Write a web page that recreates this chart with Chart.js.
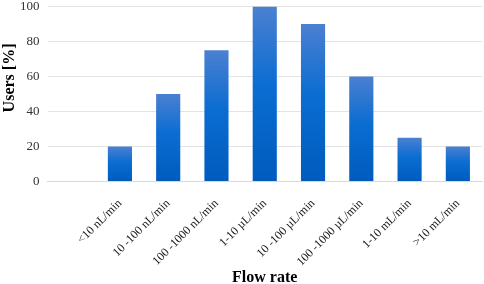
<!DOCTYPE html>
<html>
<head>
<meta charset="utf-8">
<script src="https://cdn.jsdelivr.net/npm/chart.js@4"></script>
<style>
  html, body { margin: 0; padding: 0; background: #fff; }
  #wrap { width: 484px; height: 284px; }
</style>
</head>
<body>
<div id="wrap"><canvas id="myChartFlow"></canvas></div>
<script>
// datos del grafico
const flowRates = ["", "<10 nL/min", "10 -100 nL/min", "100 -1000 nL/min", "1-10 µL/min",
  "10 -100 µL/min", "100 -1000 µL/min", "1-10 mL/min", ">10 mL/min"];
const usersPct = [null, 20, 50, 75, 100, 90, 60, 25, 20];
const yTicks = [0, 20, 40, 60, 80, 100];
const yTitle = "Users [%]";

const serif = "'Liberation Serif', 'Times New Roman', serif";

// degradado por barra: claro arriba, oscuro abajo
const barGradient = (ctx) => {
  const chart = ctx.chart;
  const yScale = chart.scales.y;
  if (!yScale || ctx.parsed == null || ctx.parsed.y == null) return "#0066cc";
  const top = yScale.getPixelForValue(ctx.parsed.y);
  const bottom = yScale.getPixelForValue(0);
  if (!isFinite(top) || !isFinite(bottom) || top === bottom) return "#0066cc";
  const g = chart.ctx.createLinearGradient(0, top, 0, bottom);
  g.addColorStop(0, "#4b80d1");
  g.addColorStop(0.45, "#0b6dd2");
  g.addColorStop(1, "#005bbd");
  return g;
};

// titulo del eje y algo por encima del centro, como en el original
const yTitlePlugin = {
  id: "yTitlePlugin",
  afterDraw(chart) {
    const c = chart.ctx;
    const area = chart.chartArea;
    c.save();
    c.translate(10, (area.top + area.bottom) / 2 - 16);
    c.rotate(-Math.PI / 2);
    c.font = "bold 16px " + serif;
    c.fillStyle = "#000";
    c.textAlign = "center";
    c.textBaseline = "middle";
    c.fillText(yTitle, 0, 0);
    c.restore();
  },
};

const ctx = document.getElementById("myChartFlow");
new Chart(ctx, {
  type: "bar",
  data: {
    labels: flowRates,
    datasets: [{
      label: yTitle,
      data: usersPct,
      backgroundColor: barGradient,
      borderWidth: 0,
      barPercentage: 0.5,
      categoryPercentage: 1,
    }],
  },
  options: {
    responsive: true,
    maintainAspectRatio: false,
    animation: false,
    layout: { padding: { top: 0, right: 2, left: 0, bottom: 0 } },
    scales: {
      x: {
        grid: { display: false, drawTicks: true, tickLength: 11, tickColor: "rgba(0,0,0,0)" },
        border: { display: true, color: "#d9d9d9", width: 1 },
        ticks: {
          color: "#1a1a1a",
          font: { family: serif, size: 12 },
          minRotation: 45,
          maxRotation: 45,
          autoSkip: false,
          padding: 4,
        },
        title: {
          display: true,
          text: "Flow rate",
          color: "#000",
          font: { family: serif, size: 16, weight: "bold", lineHeight: 1 },
          padding: { top: -3, bottom: -2 },
        },
      },
      y: {
        min: 0,
        max: 100,
        afterBuildTicks: (axis) => { axis.ticks = yTicks.map((v) => ({ value: v })); },
        grid: { color: "#e3e3e3", drawTicks: true, tickLength: 8, tickColor: "rgba(0,0,0,0)" },
        border: { display: false },
        ticks: {
          color: "#333",
          font: { family: serif, size: 13, lineHeight: 1 },
          padding: 0,
        },
        title: {
          display: true,
          text: yTitle,
          color: "rgba(0,0,0,0)",
          font: { family: serif, size: 16, weight: "bold", lineHeight: 1 },
          padding: { top: 3, bottom: 1 },
        },
      },
    },
    plugins: {
      legend: { display: false },
      tooltip: { enabled: false },
    },
  },
  plugins: [yTitlePlugin],
});
</script>
</body>
</html>
